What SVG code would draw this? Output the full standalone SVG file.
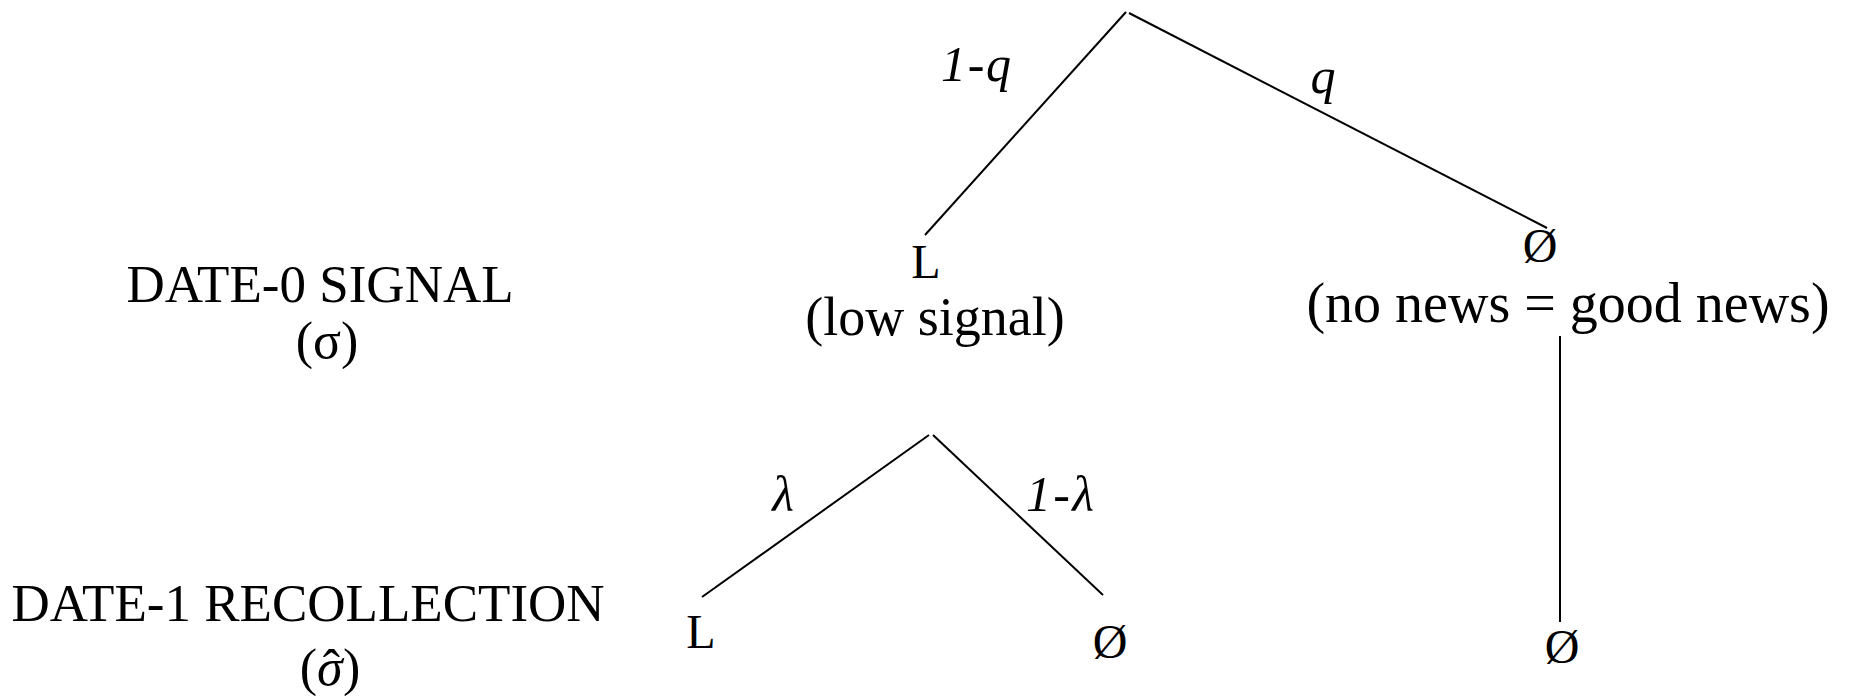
<svg xmlns="http://www.w3.org/2000/svg" width="1849" height="696" viewBox="0 0 1849 696">
<style>
  text { font-family: "Liberation Serif", "Times New Roman", serif; fill: #000; text-anchor: middle; }
  .hdr { font-size: 53px; }
  .sym { font-size: 52px; }
  .node { font-size: 48px; }
  .sub { font-size: 54px; }
  .lab { font-size: 50px; font-style: italic; }
  .edge { stroke: #000; stroke-width: 2; fill: none; stroke-linecap: butt; }
</style>
<rect x="0" y="0" width="1849" height="696" fill="#fff"/>
<g id="connectors">
  <line class="edge" x1="1126" y1="12" x2="925" y2="235"/>
  <line class="edge" x1="1129" y1="13" x2="1547" y2="228"/>
  <line class="edge" x1="929" y1="435" x2="702" y2="597"/>
  <line class="edge" x1="933" y1="435" x2="1103" y2="595"/>
  <line class="edge" x1="1560" y1="336" x2="1560" y2="622"/>
</g>
<g id="edge-labels">
  <text class="lab" x="976" y="81" textLength="70" lengthAdjust="spacing">1-q</text>
  <text class="lab" x="1323" y="93">q</text>
  <text class="lab" x="783" y="511">λ</text>
  <text class="lab" x="1060" y="511" textLength="68" lengthAdjust="spacing">1-λ</text>
</g>
<g id="row-date0">
  <text class="hdr" x="320" y="302">DATE-0 SIGNAL</text>
  <text class="sym" x="327" y="358">(σ)</text>
</g>
<g id="row-date1">
  <text class="hdr" x="308" y="621">DATE-1 RECOLLECTION</text>
  <text class="sym" x="330" y="685">(<tspan font-style="italic">σ</tspan><tspan dx="-20" dy="1">ˆ</tspan><tspan dx="3" dy="-1">)</tspan></text>
</g>
<g id="node-L0">
  <text class="node" x="926" y="278">L</text>
  <text class="sub" x="935" y="335">(low signal)</text>
</g>
<g id="node-N0">
  <text class="node" x="1540" y="262">Ø</text>
  <text class="sub" x="1568" y="322" style="font-size:56px">(no news = good news)</text>
</g>
<g id="node-L1">
  <text class="node" x="701" y="648">L</text>
</g>
<g id="node-N1a">
  <text class="node" x="1110" y="658">Ø</text>
</g>
<g id="node-N1b">
  <text class="node" x="1562" y="663">Ø</text>
</g>
</svg>
